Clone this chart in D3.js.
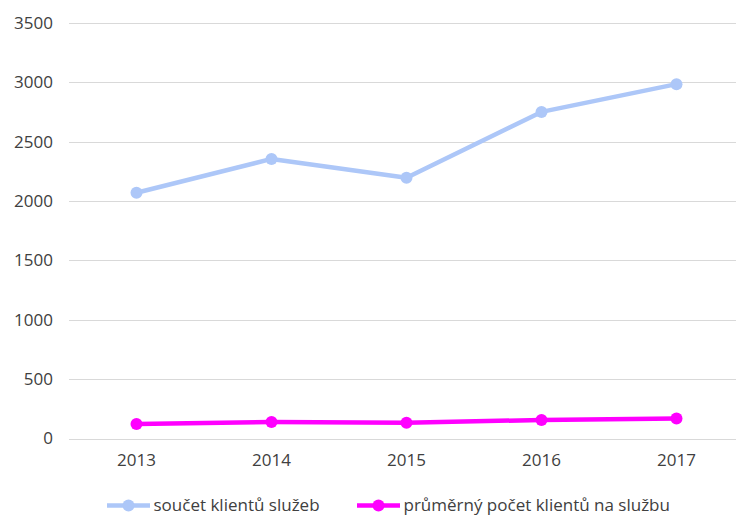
<!DOCTYPE html>
<html>
<head>
<meta charset="utf-8">
<script src="https://cdn.jsdelivr.net/npm/d3@7"></script>
<style>
  html, body { margin: 0; padding: 0; background: #fff; }
  svg { display: block; }
  text { font-family: "Open Sans", "Liberation Sans", sans-serif; fill: #404040; }
</style>
</head>
<body>
<svg id="chart" width="736" height="515"></svg>
<script>
// Years on the category axis
const years = ["2013", "2014", "2015", "2016", "2017"];
// Total clients across services
const totalClients = [2070, 2355, 2197, 2751, 2985];
// Average clients per service
const avgClients = [122, 139, 133, 156, 168];
// Value-axis ticks
const yTicks = [0, 500, 1000, 1500, 2000, 2500, 3000, 3500];

const seriesNames = ["součet klientů služeb", "průměrný počet klientů na službu"];
const seriesColors = ["#adc7f8", "#ff00ff"];
const seriesData = [totalClients, avgClients];

const svg = d3.select("#chart");
const W = 736, H = 515;
const margin = { left: 69, right: -8, top: 23, bottom: 76.5 };

const x = d3.scaleBand()
  .domain(years)
  .range([margin.left, W - margin.right]);

const y = d3.scaleLinear()
  .domain([0, 3500])
  .range([H - margin.bottom, margin.top]);

// Horizontal gridlines
svg.append("g")
  .selectAll("line")
  .data(yTicks)
  .join("line")
  .attr("x1", margin.left)
  .attr("x2", W - margin.right)
  .attr("y1", d => Math.round(y(d)) + 0.5)
  .attr("y2", d => Math.round(y(d)) + 0.5)
  .attr("stroke", "#d9d9d9")
  .attr("stroke-width", 1);

// Y axis labels
const yAxis = d3.axisLeft(y).tickValues(yTicks).tickFormat(d3.format("d")).tickSize(0).tickPadding(0);
svg.append("g")
  .attr("transform", `translate(${margin.left - 16},0)`)
  .call(yAxis)
  .call(g => g.select(".domain").remove())
  .call(g => g.selectAll("text")
    .attr("font-family", "Open Sans")
    .attr("font-size", 17)
    .attr("fill", "#404040"));

// X axis labels
const xAxis = d3.axisBottom(x).tickSize(0).tickPadding(0);
svg.append("g")
  .attr("transform", `translate(0,${H - margin.bottom + 15})`)
  .call(xAxis)
  .call(g => g.select(".domain").remove())
  .call(g => g.selectAll("text")
    .attr("font-family", "Open Sans")
    .attr("font-size", 17)
    .attr("fill", "#404040"));

const cx = d => x(d) + x.bandwidth() / 2;
const line = d3.line()
  .x((d, i) => cx(years[i]))
  .y(d => y(d));

seriesData.forEach((vals, s) => {
  const g = svg.append("g");
  g.append("path")
    .datum(vals)
    .attr("d", line)
    .attr("fill", "none")
    .attr("stroke", seriesColors[s])
    .attr("stroke-width", 4.5)
    .attr("stroke-linejoin", "round")
    .attr("stroke-linecap", "round");
  g.selectAll("circle")
    .data(vals)
    .join("circle")
    .attr("cx", (d, i) => cx(years[i]))
    .attr("cy", d => y(d))
    .attr("r", 6)
    .attr("fill", seriesColors[s]);
});

// Legend
const legendX = [107, 357];
const legendY = 505.5;
seriesNames.forEach((name, s) => {
  const g = svg.append("g").attr("transform", `translate(${legendX[s]},${legendY})`);
  g.append("line")
    .attr("x1", 0).attr("x2", 43)
    .attr("y1", 0).attr("y2", 0)
    .attr("stroke", seriesColors[s])
    .attr("stroke-width", 4.5);
  g.append("circle")
    .attr("cx", 21.5).attr("cy", 0).attr("r", 6)
    .attr("fill", seriesColors[s]);
  g.append("text")
    .attr("x", 46.5)
    .attr("y", 0)
    .attr("dy", "0.35em")
    .attr("font-size", 17)
    .attr("fill", "#404040")
    .text(name);
});
</script>
</body>
</html>
